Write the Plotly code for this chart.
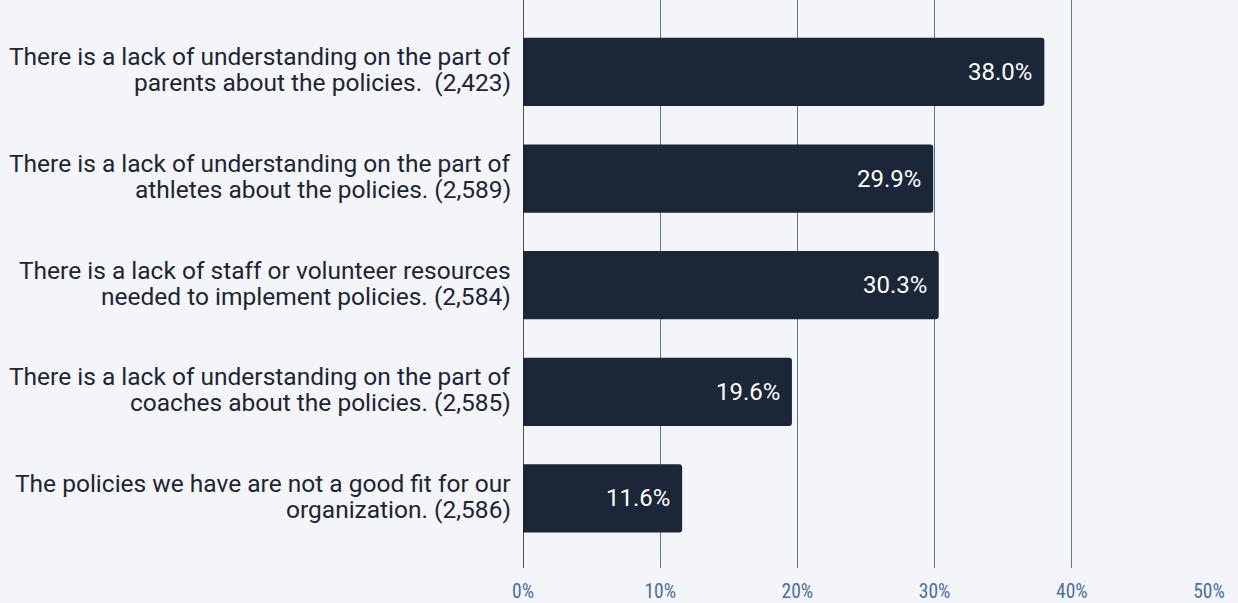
import plotly.graph_objects as go

# Survey responses: barriers to implementing policies
categories = [
    "There is a lack of understanding on the part of<br>parents about the policies.  (2,423)",
    "There is a lack of understanding on the part of<br>athletes about the policies. (2,589)",
    "There is a lack of staff or volunteer resources<br>needed to implement policies. (2,584)",
    "There is a lack of understanding on the part of<br>coaches about the policies. (2,585)",
    "The policies we have are not a good fit for our<br>organization. (2,586)",
]
percentages = [38.0, 29.9, 30.3, 19.6, 11.6]
x_ticks = [0, 10, 20, 30, 40, 50]
x_tick_labels = ["0%", "10%", "20%", "30%", "40%", "50%"]

BG = "#f3f5f9"
BAR = "#1b2638"
GRID = "#5876a3"
FONT = "Roboto"
LABEL_SIZE = 24.5
LINE_GAP = 26  # baseline-to-baseline distance of the two-line category labels

fig = go.Figure()
fig.add_trace(go.Bar(
    x=percentages,
    y=categories,
    orientation="h",
    marker=dict(color=BAR, line=dict(width=0)),
    width=0.64,
    hoverinfo="skip",
))

# category labels, right-aligned beside the axis, with tight line spacing
for cat in categories:
    lines = cat.split("<br>")
    n = len(lines)
    for i, line in enumerate(lines):
        fig.add_annotation(
            x=0, y=cat, xref="x", yref="y", text=line,
            xanchor="right", yanchor="middle", align="right",
            xshift=-10, yshift=((n - 1) / 2 - i) * LINE_GAP + 2,
            showarrow=False,
            font=dict(family=FONT, size=LABEL_SIZE, color="#1e2533"),
        )

# value labels inside the end of each bar
for cat, val in zip(categories, percentages):
    fig.add_annotation(
        x=val, y=cat, text=f"{val:.1f}%",
        xanchor="right", yanchor="middle", xshift=-10, showarrow=False,
        font=dict(family=FONT, size=24, color="white"),
    )

fig.update_layout(
    width=1238, height=603,
    margin=dict(l=523, r=29, t=0, b=35),
    paper_bgcolor=BG, plot_bgcolor=BG,
    barcornerradius=3,
    showlegend=False,
    font=dict(family=FONT),
)
fig.update_xaxes(
    range=[0, 50], tickvals=x_ticks, ticktext=x_tick_labels,
    showgrid=True, gridcolor=GRID, gridwidth=1,
    zeroline=True, zerolinecolor="#4d5159", zerolinewidth=1,
    tickfont=dict(family="Roboto Condensed, Roboto", size=19.5, color="#4a6fa5"),
    ticks="", showline=False, fixedrange=True, ticklabelstandoff=9,
)
fig.update_yaxes(
    autorange=False, range=[4.653, -0.675],
    showgrid=False, zeroline=False, showline=False, ticks="",
    showticklabels=False, fixedrange=True,
)

fig.write_html("out.html", config={"displayModeBar": False})
